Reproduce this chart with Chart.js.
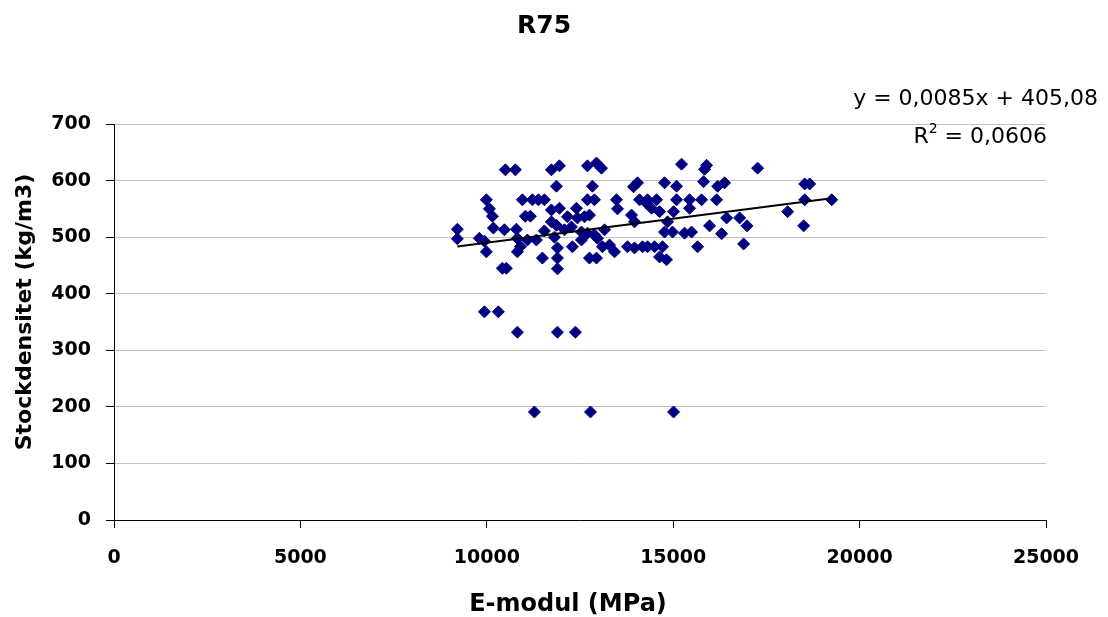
<!DOCTYPE html>
<html>
<head>
<meta charset="utf-8">
<script src="https://cdn.jsdelivr.net/npm/chart.js@4"></script>
<style>
  html, body { margin: 0; padding: 0; background: #fff; }
  #wrap { width: 1108px; height: 617px; position: relative; }
</style>
</head>
<body>
<div id="wrap"><canvas id="chart"></canvas></div>
<script>
// E-modul (MPa) values
const eModul = [
  9210, 9210, 9800, 9935, 9988, 9988, 10069, 10150, 10177, 10418,
  10525, 10472, 10498, 10767, 10794, 10821, 10901, 10821, 10955, 11035,
  11169, 11089, 11223, 11330, 11384, 11492, 11545, 11545, 11733, 11948,
  12700, 12942, 13076, 11868, 12834, 14043, 13935, 12700, 12888, 13479,
  13506, 14097, 14284, 11733, 11948, 12405, 12163, 12432, 12620, 12754,
  13882, 13962, 11733, 11868, 12083, 12270, 12539, 12700, 12888, 13157,
  11814, 12539, 12969, 12297, 11895, 13103, 13291, 13425, 13774, 13962,
  14177, 11895, 12754, 12942, 11895, 15224, 15895, 15842, 14768, 15090,
  15815, 16191, 16379, 14311, 14553, 15090, 15439, 15761, 16164, 14419,
  14634, 15010, 15439, 14848, 14768, 14982, 15305, 15492, 15976, 16433,
  16782, 16298, 16980, 14311, 14499, 14714, 14634, 14821, 15654, 16889,
  17265, 18527, 18661, 18527, 19252, 18071, 18500, 9935, 10310, 10821,
  11895, 12378, 11277, 12781, 15010
];

// Stockdensitet (kg/m3) values, same order
const densitet = [
  514, 497, 498, 493, 566, 474, 550, 537, 516, 445,
  445, 513, 619, 619, 514, 498, 483, 474, 566, 537,
  537, 495, 566, 495, 566, 463, 566, 511, 619, 626,
  626, 631, 622, 590, 590, 596, 589, 566, 566, 566,
  550, 566, 560, 548, 551, 551, 536, 534, 536, 539,
  539, 527, 527, 521, 513, 518, 509, 507, 504, 513,
  500, 495, 498, 483, 481, 483, 486, 474, 483, 481,
  483, 463, 463, 463, 444, 629, 627, 620, 596, 590,
  598, 590, 596, 566, 566, 566, 566, 566, 566, 551,
  545, 545, 551, 527, 509, 509, 507, 509, 520, 534,
  534, 506, 520, 483, 483, 483, 465, 460, 483, 488,
  622, 594, 594, 566, 566, 545, 520, 368, 368, 332,
  332, 332, 191, 191, 191
];

// trendline coefficients as printed on the chart
const slope = 0.0085;
const intercept = 405.08;
const eqText = 'y = 0,0085x + 405,08';
const r2Text = '0,0606';

const xTicks = [0, 5000, 10000, 15000, 20000, 25000];
const yTicks = [0, 100, 200, 300, 400, 500, 600, 700];

const points = eModul.map((x, i) => ({ x: x, y: densitet[i] }));
const xMin = Math.min(...eModul);
const xMax = Math.max(...eModul);
const trend = [
  { x: xMin, y: slope * xMin + intercept },
  { x: xMax, y: slope * xMax + intercept }
];

const tickFont = { family: '"DejaVu Sans", sans-serif', size: 19, weight: 'bold' };

// titles and the trendline label are drawn by hand
const textPlugin = {
  id: 'texts',
  afterDraw(chart) {
    const ctx = chart.ctx;
    const area = chart.chartArea;
    ctx.save();
    ctx.fillStyle = '#000';
    ctx.textBaseline = 'middle';

    ctx.textAlign = 'center';
    ctx.font = 'bold 25px "DejaVu Sans", sans-serif';
    ctx.fillText('R75', 544, 26);

    ctx.font = 'bold 24px "DejaVu Sans", sans-serif';
    ctx.fillText('E-modul (MPa)', 568, 605);

    ctx.font = 'bold 22px "DejaVu Sans", sans-serif';
    ctx.save();
    ctx.translate(25, 312);
    ctx.rotate(-Math.PI / 2);
    ctx.fillText('Stockdensitet (kg/m3)', 0, 0);
    ctx.restore();

    // equation + R squared
    ctx.textAlign = 'right';
    ctx.font = '22px "DejaVu Sans", sans-serif';
    ctx.fillText(eqText, 1098, 99);
    const rest = ' = ' + r2Text;
    ctx.fillText(rest, 1047, 137);
    const restW = ctx.measureText(rest).width;
    ctx.font = '14px "DejaVu Sans", sans-serif';
    ctx.fillText('2', 1047 - restW, 129);
    const supW = ctx.measureText('2').width;
    ctx.font = '22px "DejaVu Sans", sans-serif';
    ctx.fillText('R', 1047 - restW - supW, 137);
    ctx.restore();
  }
};

new Chart(document.getElementById('chart'), {
  type: 'scatter',
  data: {
    datasets: [
      {
        type: 'line',
        label: 'Trend',
        data: trend,
        borderColor: '#000',
        borderWidth: 2,
        pointRadius: 0,
        fill: false,
        order: 0
      },
      {
        label: 'R75',
        data: points,
        pointStyle: 'rectRot',
        pointRadius: 6,
        pointHoverRadius: 6,
        backgroundColor: '#000080',
        borderColor: '#000080',
        borderWidth: 1,
        order: 1
      }
    ]
  },
  plugins: [textPlugin],
  options: {
    responsive: true,
    maintainAspectRatio: false,
    animation: false,
    layout: { padding: { top: 124, right: 62, bottom: 0, left: 0 } },
    plugins: {
      legend: { display: false },
      tooltip: { enabled: false }
    },
    scales: {
      x: {
        type: 'linear',
        min: 0,
        max: 25000,
        afterBuildTicks: scale => { scale.ticks = xTicks.map(v => ({ value: v })); },
        afterFit: scale => { scale.height = 97; },
        border: { color: '#000', width: 1 },
        grid: { drawOnChartArea: false, tickLength: 8, color: '#000' },
        ticks: {
          color: '#000',
          font: tickFont,
          padding: 19,
          maxRotation: 0,
          callback: value => String(value)
        }
      },
      y: {
        type: 'linear',
        min: 0,
        max: 700,
        afterBuildTicks: scale => { scale.ticks = yTicks.map(v => ({ value: v })); },
        afterFit: scale => { scale.width = 114; },
        border: { color: '#000', width: 1 },
        grid: { color: '#c0c0c0', tickColor: '#000', tickLength: 8 },
        ticks: {
          color: '#000',
          font: tickFont,
          padding: 15,
          callback: value => String(value)
        }
      }
    }
  }
});
</script>
</body>
</html>
